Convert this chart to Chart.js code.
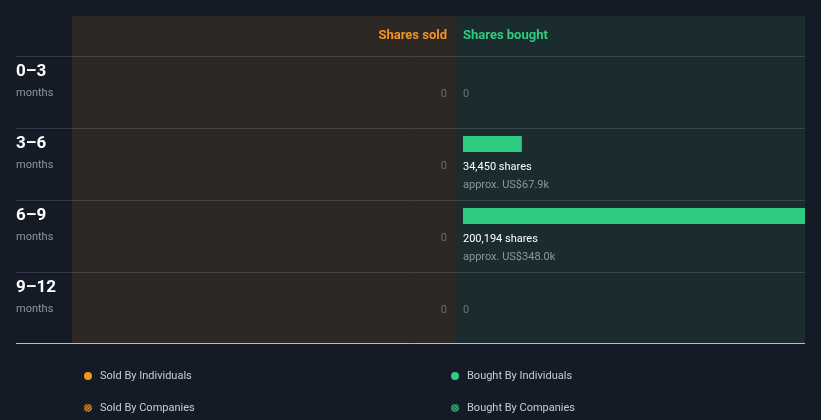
<!DOCTYPE html>
<html>
<head>
<meta charset="utf-8">
<script src="https://cdn.jsdelivr.net/npm/chart.js@4/dist/chart.umd.min.js"></script>
<style>
  html, body { margin: 0; padding: 0; background: #151b26; }
  #wrap { width: 821px; height: 420px; }
</style>
</head>
<body>
<div id="wrap"><canvas id="c" width="821" height="420"></canvas></div>
<script>
// ---- data ----
const categories = ['0–3', '3–6', '6–9', '9–12'];
const categoryUnits = ['months', 'months', 'months', 'months'];
const soldShares = [0, 0, 0, 0];
const boughtShares = [0, 34450, 200194, 0];
const boughtValueLabels = ['', 'approx. US$67.9k', 'approx. US$348.0k', ''];
const soldValueLabels = ['', '', '', ''];
const legendLabels = ['Sold By Individuals', 'Bought By Individuals', 'Sold By Companies', 'Bought By Companies'];
const columnTitles = ['Shares sold', 'Shares bought'];

const ORANGE = '#f5931f';
const GREEN = '#2ecb80';
const FONT = 'Roboto, "Noto Sans", sans-serif';

const decor = {
  id: 'decor',
  beforeDraw(chart) {
    const ctx = chart.ctx;
    const y = chart.scales.y;
    const W = chart.width;
    ctx.save();
    ctx.fillStyle = '#151b26';
    ctx.fillRect(0, 0, W, chart.height);
    const lastBottom = y.getPixelForValue(categories.length - 1) - 16 + 72;
    // panels
    ctx.fillStyle = '#2d2823';
    ctx.fillRect(72, 16, 383, lastBottom - 16);
    ctx.fillStyle = '#1a2c2e';
    ctx.fillRect(455, 16, 350, lastBottom - 16);
    // separators
    ctx.strokeStyle = 'rgba(255,255,255,0.13)';
    ctx.lineWidth = 1;
    categories.forEach((c, i) => {
      const top = Math.round(y.getPixelForValue(i) - 16) + 0.5;
      ctx.beginPath();
      ctx.moveTo(16, top);
      ctx.lineTo(805, top);
      ctx.stroke();
    });
    ctx.strokeStyle = '#b9bcc0';
    ctx.beginPath();
    ctx.moveTo(16, lastBottom - 0.5);
    ctx.lineTo(805, lastBottom - 0.5);
    ctx.stroke();
    ctx.restore();
  },
  afterDatasetsDraw(chart) {
    const ctx = chart.ctx;
    const y = chart.scales.y;
    ctx.save();
    // column titles
    ctx.font = 'bold 13px ' + FONT;
    ctx.textBaseline = 'alphabetic';
    ctx.fillStyle = ORANGE;
    ctx.textAlign = 'right';
    ctx.fillText(columnTitles[0], 447, 39);
    ctx.fillStyle = GREEN;
    ctx.textAlign = 'left';
    ctx.fillText(columnTitles[1], 463, 39);

    categories.forEach((c, i) => {
      const top = Math.round(y.getPixelForValue(i) - 16);
      // row labels
      ctx.textAlign = 'left';
      ctx.textBaseline = 'alphabetic';
      ctx.fillStyle = '#ffffff';
      ctx.font = 'bold 17px ' + FONT;
      ctx.fillText(c, 16, top + 20);
      ctx.fillStyle = '#8d949c';
      ctx.font = '11px ' + FONT;
      ctx.fillText(categoryUnits[i], 16, top + 40);
      // sold
      ctx.font = '11px ' + FONT;
      ctx.fillStyle = '#6e6a66';
      ctx.textAlign = 'right';
      ctx.textBaseline = 'middle';
      if (soldShares[i] === 0) ctx.fillText('0', 447, top + 38);
      // bought
      ctx.textAlign = 'left';
      if (boughtShares[i] === 0) {
        ctx.fillStyle = '#62787a';
        ctx.fillText('0', 463, top + 38);
      } else {
        ctx.textBaseline = 'alphabetic';
        ctx.fillStyle = '#ffffff';
        ctx.font = '11px ' + FONT;
        ctx.fillText(boughtShares[i].toLocaleString('en-US') + ' shares', 463, top + 42);
        ctx.fillStyle = '#8d979a';
        ctx.font = '11px ' + FONT;
        ctx.fillText(boughtValueLabels[i], 463, top + 60);
      }
    });

    // legend
    const items = [
      { x: 88, y: 376, color: ORANGE, hatch: false, label: legendLabels[0] },
      { x: 455, y: 376, color: GREEN, hatch: false, label: legendLabels[1] },
      { x: 88, y: 408, color: ORANGE, hatch: true, label: legendLabels[2] },
      { x: 455, y: 408, color: GREEN, hatch: true, label: legendLabels[3] },
    ];
    items.forEach(it => {
      ctx.save();
      ctx.beginPath();
      ctx.arc(it.x, it.y, 4, 0, Math.PI * 2);
      if (!it.hatch) {
        ctx.fillStyle = it.color;
        ctx.fill();
      } else {
        ctx.clip();
        ctx.strokeStyle = it.color;
        ctx.lineWidth = 1.3;
        for (let k = -8; k <= 8; k += 3) {
          ctx.beginPath();
          ctx.moveTo(it.x + k - 5, it.y + 5);
          ctx.lineTo(it.x + k + 5, it.y - 5);
          ctx.stroke();
        }
      }
      ctx.restore();
      ctx.fillStyle = '#c9ccd1';
      ctx.font = '11px ' + FONT;
      ctx.textAlign = 'left';
      ctx.textBaseline = 'middle';
      ctx.fillText(it.label, it.x + 12, it.y);
    });
    ctx.restore();
  }
};

new Chart(document.getElementById('c'), {
  type: 'bar',
  data: {
    labels: categories,
    datasets: [
      { label: 'Shares bought', data: boughtShares, backgroundColor: GREEN, borderWidth: 0, inflateAmount: 0, barThickness: 16, grouped: false },
      { label: 'Shares sold', data: soldShares, backgroundColor: ORANGE, borderWidth: 0, inflateAmount: 0, barThickness: 16, grouped: false }
    ]
  },
  options: {
    indexAxis: 'y',
    responsive: false,
    devicePixelRatio: 1,
    animation: false,
    layout: { padding: { left: 463, right: 16, top: 36, bottom: 96 } },
    scales: {
      x: { display: false, min: 0, max: Math.max(...boughtShares) },
      y: { display: false, offset: true }
    },
    plugins: {
      legend: { display: false },
      tooltip: { enabled: false }
    }
  },
  plugins: [decor]
});
</script>
</body>
</html>
